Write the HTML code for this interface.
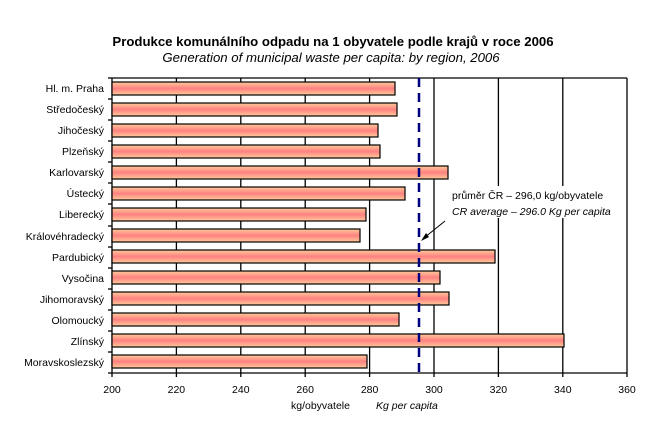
<!DOCTYPE html>
<html><head><meta charset="utf-8"><style>
body{margin:0;background:#fff;}
svg{display:block;font-family:"Liberation Sans",Arial,sans-serif;}
</style></head><body>
<svg width="665" height="445" viewBox="0 0 665 445">
<defs>
<linearGradient id="g" x1="0" y1="0" x2="0" y2="1">
<stop offset="0" stop-color="#FFCC99"/>
<stop offset="0.5" stop-color="#FF8080"/>
<stop offset="1" stop-color="#FFCC99"/>
</linearGradient>
</defs>
<text x="333" y="46" font-size="13.2" font-weight="bold" text-anchor="middle">Produkce komunálního odpadu na 1 obyvatele podle krajů v roce 2006</text>
<text x="331" y="62" font-size="13.2" font-style="italic" text-anchor="middle">Generation of municipal waste per capita: by region, 2006</text>
<g stroke="#000" stroke-width="1.3">
<line x1="112" y1="78" x2="627" y2="78"/>
<line x1="176.4" y1="78" x2="176.4" y2="377"/>
<line x1="240.8" y1="78" x2="240.8" y2="377"/>
<line x1="305.2" y1="78" x2="305.2" y2="377"/>
<line x1="369.6" y1="78" x2="369.6" y2="377"/>
<line x1="434" y1="78" x2="434" y2="377"/>
<line x1="498.4" y1="78" x2="498.4" y2="377"/>
<line x1="562.8" y1="78" x2="562.8" y2="377"/>
<line x1="627" y1="78" x2="627" y2="377"/>
<line x1="112" y1="78" x2="112" y2="377"/>
<line x1="112" y1="373" x2="627" y2="373"/>
</g>
<g stroke="#000" stroke-width="1.3">
<line x1="108" y1="78" x2="112" y2="78"/><line x1="108" y1="99" x2="112" y2="99"/><line x1="108" y1="120" x2="112" y2="120"/><line x1="108" y1="141" x2="112" y2="141"/><line x1="108" y1="162" x2="112" y2="162"/><line x1="108" y1="183" x2="112" y2="183"/><line x1="108" y1="204" x2="112" y2="204"/><line x1="108" y1="226" x2="112" y2="226"/><line x1="108" y1="247" x2="112" y2="247"/><line x1="108" y1="268" x2="112" y2="268"/><line x1="108" y1="289" x2="112" y2="289"/><line x1="108" y1="310" x2="112" y2="310"/><line x1="108" y1="331" x2="112" y2="331"/><line x1="108" y1="352" x2="112" y2="352"/><line x1="108" y1="373" x2="112" y2="373"/>
</g>
<g fill="url(#g)" stroke="#000" stroke-width="1.2">
<rect x="112" y="82" width="283" height="13"/>
<rect x="112" y="103" width="285" height="13"/>
<rect x="112" y="124" width="266" height="13"/>
<rect x="112" y="145" width="268" height="13"/>
<rect x="112" y="166" width="336" height="13"/>
<rect x="112" y="187" width="293" height="13"/>
<rect x="112" y="208" width="254" height="13"/>
<rect x="112" y="229" width="248" height="13"/>
<rect x="112" y="250" width="383" height="13"/>
<rect x="112" y="271" width="328" height="13"/>
<rect x="112" y="292" width="337" height="13"/>
<rect x="112" y="313" width="287" height="13"/>
<rect x="112" y="334" width="452" height="13"/>
<rect x="112" y="355" width="255" height="13"/>
</g>
<line x1="419" y1="78" x2="419" y2="373" stroke="#000080" stroke-width="2.5" stroke-dasharray="9,6"/>
<g font-size="10.5" text-anchor="end">
<text x="104" y="92">Hl. m. Praha</text>
<text x="104" y="113">Středočeský</text>
<text x="104" y="134">Jihočeský</text>
<text x="104" y="155">Plzeňský</text>
<text x="104" y="176">Karlovarský</text>
<text x="104" y="197">Ústecký</text>
<text x="104" y="218">Liberecký</text>
<text x="104" y="240">Královéhradecký</text>
<text x="104" y="261">Pardubický</text>
<text x="104" y="282">Vysočina</text>
<text x="104" y="303">Jihomoravský</text>
<text x="104" y="324">Olomoucký</text>
<text x="104" y="345">Zlínský</text>
<text x="104" y="366">Moravskoslezský</text>
</g>
<g font-size="10.5" text-anchor="middle">
<text x="112" y="393">200</text><text x="176.4" y="393">220</text><text x="240.8" y="393">240</text><text x="305.2" y="393">260</text><text x="369.6" y="393">280</text><text x="434" y="393">300</text><text x="498.4" y="393">320</text><text x="562.8" y="393">340</text><text x="627" y="393">360</text>
</g>
<text x="291" y="409" font-size="10.5">kg/obyvatele</text>
<text x="376" y="409" font-size="10.5" font-style="italic">Kg per capita</text>
<rect x="446" y="186" width="168" height="32" fill="#fff"/>
<text x="452" y="199" font-size="10.5">průměr ČR – 296,0 kg/obyvatele</text>
<text x="452" y="215" font-size="10.5" font-style="italic">CR average – 296.0 Kg per capita</text>
<line x1="445" y1="221" x2="424" y2="238" stroke="#000" stroke-width="1"/>
<polygon points="421,241 429,237 426,233" fill="#000"/>
</svg>
</body></html>
